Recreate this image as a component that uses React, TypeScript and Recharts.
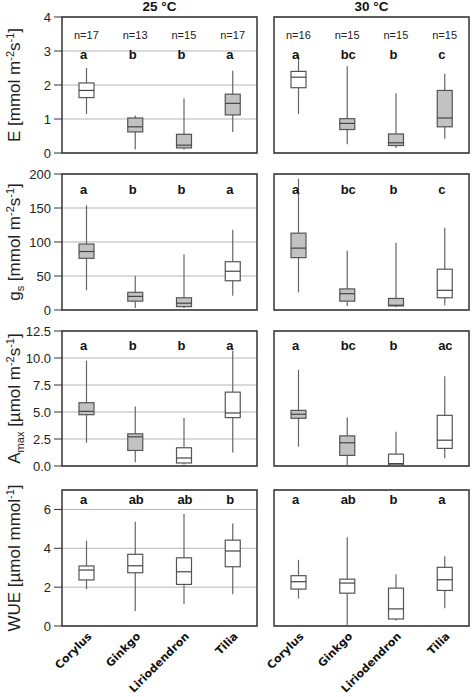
import React from 'react';
import { ComposedChart, Bar, Scatter, XAxis, YAxis, CartesianGrid, ReferenceArea } from 'recharts';

type Five = [number, number, number, number, number]; // low whisker, q1, median, q3, high whisker
type Part = { t: string; sup?: boolean; sub?: boolean };

const CATEGORIES = ['Corylus', 'Ginkgo', 'Liriodendron', 'Tilia'];
const TEMPS = ['25 °C', '30 °C'];
const N_25C = [17, 13, 15, 17];
const N_30C = [16, 15, 15, 15];

const E_25C: Five[] = [
  [1.15, 1.63, 1.84, 2.06, 2.5],
  [0.1, 0.62, 0.77, 1.03, 1.1],
  [0.1, 0.15, 0.23, 0.55, 1.61],
  [0.62, 1.12, 1.46, 1.73, 2.42],
];
const E_30C: Five[] = [
  [1.15, 1.92, 2.23, 2.4, 2.89],
  [0.26, 0.69, 0.87, 1.01, 2.55],
  [0.15, 0.22, 0.3, 0.56, 1.76],
  [0.42, 0.77, 1.03, 1.84, 2.33],
];
const GS_25C: Five[] = [
  [29, 76, 86, 97, 154],
  [3, 13, 20, 26, 50],
  [3, 5, 10, 18, 82],
  [21, 43, 57, 71, 118],
];
const GS_30C: Five[] = [
  [26, 77, 91, 113, 193],
  [6, 13, 24, 31, 87],
  [4, 6, 7, 17, 99],
  [7, 18, 29, 60, 121],
];
const AMAX_25C: Five[] = [
  [2.15, 4.75, 5.06, 5.86, 9.75],
  [0.34, 1.44, 2.7, 2.98, 5.52],
  [0.15, 0.28, 0.74, 1.69, 4.45],
  [1.26, 4.48, 4.91, 6.84, 10.67],
];
const AMAX_30C: Five[] = [
  [1.78, 4.42, 4.79, 5.15, 8.9],
  [0, 0.98, 2.15, 2.79, 4.48],
  [0.06, 0.1, 0.22, 1.1, 3.16],
  [0.71, 1.63, 2.39, 4.69, 8.31],
];
const WUE_25C: Five[] = [
  [1.89, 2.37, 2.88, 3.09, 4.39],
  [0.77, 2.74, 3.1, 3.69, 5.37],
  [1.13, 2.14, 2.79, 3.51, 5.76],
  [1.63, 3.05, 3.86, 4.42, 5.28],
];
const WUE_30C: Five[] = [
  [1.41, 1.9, 2.28, 2.59, 3.41],
  [0, 1.69, 2.21, 2.41, 4.57],
  [0.28, 0.36, 0.88, 1.95, 2.67],
  [0.91, 1.83, 2.38, 3.02, 3.59],
];

// significance letters, [25 °C, 30 °C]
const LETTERS_E = [['a', 'b', 'b', 'a'], ['a', 'bc', 'b', 'c']];
const LETTERS_GS = [['a', 'b', 'b', 'a'], ['a', 'bc', 'b', 'c']];
const LETTERS_AMAX = [['a', 'b', 'b', 'a'], ['a', 'bc', 'b', 'ac']];
const LETTERS_WUE = [['a', 'ab', 'ab', 'b'], ['a', 'ab', 'b', 'a']];

// grey boxes
const SHADE_E = [[false, true, true, true], [false, true, true, true]];
const SHADE_GS = [[true, true, true, false], [true, true, true, false]];
const SHADE_AMAX = [[true, true, false, false], [true, true, false, false]];
const SHADE_WUE = [[false, false, false, false], [false, false, false, false]];

const FONT = '"Liberation Sans", Arial, sans-serif';
const GREY = '#c2c2c2';

const ROWS = [
  {
    top: 17, bottom: 153, max: 4, ticks: [0, 1, 2, 3, 4], digits: 0, letterDy: 42, counts: true,
    boxes: [E_25C, E_30C], letters: LETTERS_E, shade: SHADE_E,
    title: [{ t: 'E [mmol m' }, { t: '-2', sup: true }, { t: 's' }, { t: '-1', sup: true }, { t: ']' }] as Part[],
  },
  {
    top: 174, bottom: 310, max: 200, ticks: [0, 50, 100, 150, 200], digits: 0, letterDy: 20, counts: false,
    boxes: [GS_25C, GS_30C], letters: LETTERS_GS, shade: SHADE_GS,
    title: [{ t: 'g' }, { t: 's', sub: true }, { t: ' [mmol m' }, { t: '-2', sup: true }, { t: 's' }, { t: '-1', sup: true }, { t: ']' }] as Part[],
  },
  {
    top: 331, bottom: 466, max: 12.5, ticks: [0, 2.5, 5, 7.5, 10, 12.5], digits: 1, letterDy: 19, counts: false,
    boxes: [AMAX_25C, AMAX_30C], letters: LETTERS_AMAX, shade: SHADE_AMAX,
    title: [{ t: 'A' }, { t: 'max', sub: true }, { t: ' [µmol m' }, { t: '-2', sup: true }, { t: 's' }, { t: '-1', sup: true }, { t: ']' }] as Part[],
  },
  {
    top: 490, bottom: 626, max: 7, ticks: [0, 2, 4, 6], digits: 0, letterDy: 14, counts: false,
    boxes: [WUE_25C, WUE_30C], letters: LETTERS_WUE, shade: SHADE_WUE,
    title: [{ t: 'WUE [µmol mmol' }, { t: '-1', sup: true }, { t: ']' }] as Part[],
  },
];

const COLS = [
  { left: 0, width: 262, ml: 0, mr: 5, yWidth: 62, showY: true },
  { left: 262, width: 210, ml: 12, mr: 3, yWidth: 0, showY: false },
];

function BoxShape(props: any) {
  const { x, y, width, height, payload } = props;
  const [lo, q1, med, q3, hi] = payload.box as Five;
  const top = Math.min(y, y + height);
  const bot = Math.max(y, y + height);
  const py = (v: number) => bot - ((v - lo) / (hi - lo)) * (bot - top);
  const cx = x + width / 2;
  return (
    <g>
      <line x1={cx} x2={cx} y1={py(hi)} y2={py(q3)} stroke="#666" strokeWidth={1.2} />
      <line x1={cx} x2={cx} y1={py(q1)} y2={py(lo)} stroke="#666" strokeWidth={1.2} />
      <rect x={x} y={py(q3)} width={width} height={py(q1) - py(q3)} fill={payload.shaded ? GREY : '#fff'} stroke="#555" strokeWidth={1.2} />
      <line x1={x} x2={x + width} y1={py(med)} y2={py(med)} stroke="#444" strokeWidth={1.2} />
    </g>
  );
}

function AxisTitle({ viewBox, parts }: { viewBox: any; parts: Part[] }) {
  const bx = viewBox.x + 20;
  const cy = viewBox.y + viewBox.height / 2;
  let cur = 0;
  return (
    <text x={bx} y={cy} transform={`rotate(-90 ${bx} ${cy})`} textAnchor="middle" fontSize={17} fontFamily={FONT} fill="#222">
      {parts.map((p, i) => {
        const target = p.sup ? -6 : p.sub ? 4 : 0;
        const dy = target - cur;
        cur = target;
        return (
          <tspan key={i} dy={dy} fontSize={p.sup || p.sub ? 11 : 17}>
            {p.t}
          </tspan>
        );
      })}
    </text>
  );
}

function SpeciesTick(p: any) {
  return (
    <g transform={`translate(${p.x + 6},${p.y + 11})`}>
      <text x={0} y={0} transform="rotate(-45)" textAnchor="end" fontSize={11} fontWeight="bold" fontFamily='"DejaVu Sans", sans-serif' fill="#111">
        {p.payload.value}
      </text>
    </g>
  );
}

function Panel({ ri, ci }: { ri: number; ci: number }) {
  const row = ROWS[ri];
  const col = COLS[ci];
  const last = ri === ROWS.length - 1;
  const counts = ci === 0 ? N_25C : N_30C;
  const data = CATEGORIES.map((cat, i) => ({
    cat,
    box: row.boxes[ci][i],
    shaded: row.shade[ci][i],
    letter: row.letters[ci][i],
    n: counts[i],
    edge: row.max,
  }));
  const mt = 10;
  const xh = last ? 71 : 0;
  const mb = last ? 0 : 8;
  const h = row.bottom - row.top + mt + xh + mb;

  // text labels anchored to the top edge of the plot (y = domain max)
  const labelShape = (p: any) => (
    <g>
      {row.counts && (
        <text x={p.cx} y={p.cy + 22} textAnchor="middle" fontSize={11} fontFamily={FONT} fill="#222">
          {'n=' + p.payload.n}
        </text>
      )}
      <text x={p.cx - 6.5} y={p.cy + row.letterDy} textAnchor="start" fontSize={13} fontWeight="bold" fontFamily={FONT} fill="#111">
        {p.payload.letter}
      </text>
    </g>
  );

  return (
    <div style={{ position: 'absolute', left: col.left, top: row.top - mt }}>
      <ComposedChart width={col.width} height={h} data={data} margin={{ top: mt, right: col.mr, bottom: mb, left: col.ml }}>
        <CartesianGrid vertical={false} stroke="#b5b5b5" />
        <XAxis dataKey="cat" height={xh} interval={0} tickSize={0} tickMargin={0} axisLine={false} tickLine={false} tick={last ? <SpeciesTick /> : false} />
        {col.showY ? (
          <YAxis
            type="number"
            domain={[0, row.max]}
            ticks={row.ticks}
            interval={0}
            width={col.yWidth}
            axisLine={false}
            tickSize={8}
            tickMargin={3}
            tickLine={{ stroke: '#333' }}
            tick={{ fontSize: 13, fill: '#222', fontFamily: FONT }}
            tickFormatter={(v: number) => v.toFixed(row.digits)}
            label={(lp: any) => <AxisTitle viewBox={lp.viewBox} parts={row.title} />}
          />
        ) : (
          <YAxis type="number" domain={[0, row.max]} ticks={row.ticks} interval={0} width={0} axisLine={false} tickLine={false} tick={false} />
        )}
        <Bar dataKey={(d: any) => [d.box[0], d.box[4]]} barSize={15} isAnimationActive={false} shape={BoxShape} />
        <Scatter dataKey="edge" isAnimationActive={false} shape={labelShape} />
        <ReferenceArea y1={0} y2={row.max} fill="none" fillOpacity={0} stroke="#333" strokeWidth={1.5} />
      </ComposedChart>
    </div>
  );
}

export default function App() {
  return (
    <div style={{ position: 'absolute', left: 0, top: 0, width: 472, height: 697, background: '#fff', overflow: 'hidden' }}>
      {TEMPS.map((t, ci) => {
        const c = COLS[ci];
        const x0 = c.left + c.ml + c.yWidth;
        const w = c.width - c.ml - c.yWidth - c.mr;
        return (
          <div key={t} style={{ position: 'absolute', left: x0, top: -1, width: w, textAlign: 'center', fontFamily: FONT, fontWeight: 'bold', fontSize: 13.5, color: '#111' }}>
            {t}
          </div>
        );
      })}
      {ROWS.map((_, ri) => COLS.map((__, ci) => <Panel key={ri + '-' + ci} ri={ri} ci={ci} />))}
    </div>
  );
}
